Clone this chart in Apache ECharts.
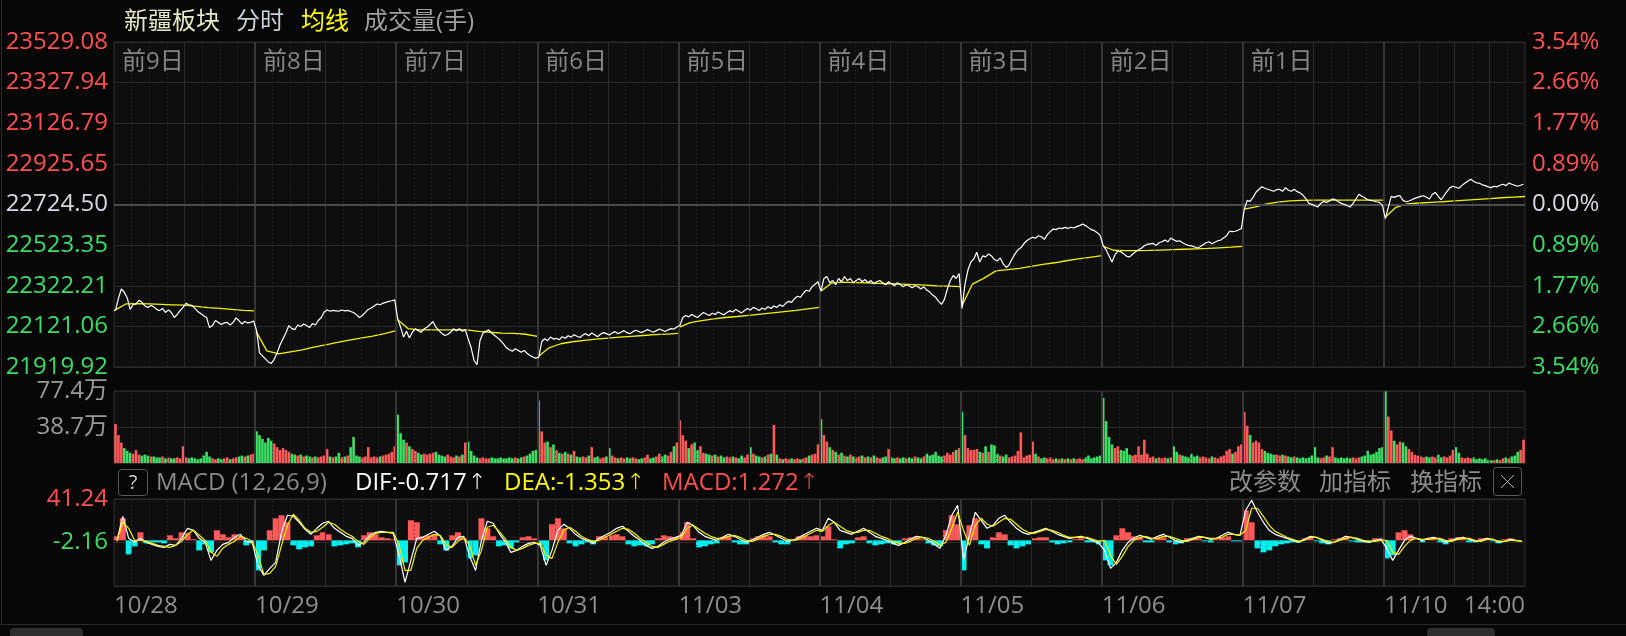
<!DOCTYPE html>
<html><head><meta charset="utf-8">
<script src="https://cdn.jsdelivr.net/npm/echarts@6/dist/echarts.min.js"></script>
<style>html,body{margin:0;padding:0;background:#070707;}#c{width:1626px;height:636px;}</style>
</head><body><div id="c"></div>
<script>
// ---------------- DATA ----------------
const dates = ['10/28','10/29','10/30','10/31','11/03','11/04','11/05','11/06','11/07','11/10'];
const lastTime = '14:00';
const dayTags = ['前9日','前8日','前7日','前6日','前5日','前4日','前3日','前2日','前1日',''];
const priceTicks = ['21919.92','22121.06','22322.21','22523.35','22724.50','22925.65','23126.79','23327.94','23529.08'];
const pctTicks = ['3.54%','2.66%','1.77%','0.89%','0.00%','0.89%','1.77%','2.66%','3.54%'];
const volTicks = ['', '38.7万', '77.4万'];
const macdTicks = ['', '-2.16', '41.24'];
const priceMin = 21919.92, priceMax = 23529.08, priceStep = 201.145, prevClose = 22724.50;
const volMax = 77.4, volStep = 38.7;
const macdMin = -45.56, macdMax = 41.24, macdStep = 43.4;

// price, 48 points per day (5-minute samples)
const price = [
22199,22260,22306,22290,22262,22205,22228,22232,22250,22240,22222,22215,22225,22218,22205,22199,22210,22190,22203,22190,22165,22180,22199,22215,22235,22228,22225,22210,22195,22185,22174,22165,22115,22125,22150,22140,22130,22138,22141,22128,22140,22163,22150,22133,22145,22138,22141,22148,
22100,21990,21975,21960,21945,21938,21958,21990,22030,22060,22090,22125,22110,22105,22128,22120,22133,22125,22115,22135,22128,22150,22165,22192,22202,22196,22200,22198,22196,22202,22198,22200,22195,22190,22178,22165,22175,22190,22205,22212,22222,22232,22228,22236,22240,22245,22248,22252,
22158,22117,22068,22097,22064,22092,22109,22100,22092,22109,22117,22130,22145,22117,22100,22087,22076,22081,22092,22109,22100,22109,22097,22104,22059,22015,21952,21932,22051,22087,22097,22104,22087,22076,22064,22051,22034,22015,22005,21998,22010,22002,21993,22002,21988,21977,21969,21964,
21968,22045,22060,22050,22068,22058,22062,22055,22070,22062,22075,22068,22080,22072,22066,22078,22085,22075,22088,22080,22070,22082,22090,22085,22078,22088,22095,22085,22092,22100,22090,22085,22095,22102,22096,22090,22098,22105,22098,22092,22100,22108,22102,22096,22104,22110,22108,22118,
22125,22165,22175,22168,22180,22172,22165,22178,22190,22182,22175,22186,22180,22192,22185,22178,22190,22198,22192,22205,22196,22188,22200,22210,22202,22215,22208,22200,22212,22205,22218,22210,22222,22215,22228,22220,22235,22245,22240,22258,22270,22265,22285,22300,22295,22318,22330,22342,
22296,22358,22368,22337,22348,22327,22358,22342,22368,22348,22358,22337,22348,22358,22342,22353,22337,22348,22332,22342,22348,22337,22327,22342,22332,22322,22337,22327,22317,22327,22322,22312,22322,22317,22306,22317,22301,22291,22276,22265,22245,22230,22255,22306,22348,22373,22358,22383,
22210,22330,22400,22440,22455,22488,22440,22470,22465,22480,22470,22452,22445,22460,22430,22413,22425,22455,22480,22500,22510,22530,22545,22555,22562,22558,22570,22565,22552,22575,22590,22603,22600,22608,22605,22611,22606,22612,22608,22615,22620,22628,22620,22610,22600,22595,22585,22570,
22521,22500,22470,22440,22475,22495,22490,22480,22468,22465,22478,22490,22500,22508,22520,22528,22530,22532,22522,22535,22540,22548,22540,22558,22550,22542,22545,22535,22528,22522,22520,22515,22509,22515,22525,22535,22540,22530,22538,22545,22548,22560,22570,22592,22590,22592,22598,22605,
22700,22745,22740,22760,22785,22800,22812,22805,22800,22795,22790,22798,22800,22790,22808,22795,22790,22800,22788,22782,22770,22752,22730,22725,22718,22712,22730,22740,22735,22742,22752,22748,22738,22730,22725,22718,22712,22730,22752,22775,22765,22758,22748,22745,22742,22738,22735,22720,
22655,22710,22765,22760,22766,22768,22745,22738,22742,22748,22755,22760,22765,22768,22760,22752,22775,22784,22765,22748,22770,22790,22808,22815,22810,22805,22818,22830,22840,22850,22840,22832,22830,22822,22818,22812,22808,22815,22812,22820,22825,22818,22830,22825,22820,22815,22820,22825
];

// average price line, 13 points per day (every 20 minutes, day start to day end)
const avgLine = [
22199,22232,22233,22232,22230,22228,22226,22220,22214,22210,22205,22200,22198,
22105,22000,21985,21995,22005,22018,22030,22042,22053,22063,22073,22085,22100,
22160,22110,22104,22104,22104,22104,22104,22096,22092,22088,22086,22082,22072,
21968,22015,22035,22045,22052,22058,22063,22068,22072,22076,22080,22083,22086,
22115,22140,22150,22158,22165,22170,22176,22182,22188,22194,22200,22208,22215,
22290,22335,22340,22338,22336,22334,22332,22330,22328,22325,22322,22320,22318,
22210,22330,22360,22396,22402,22408,22418,22428,22436,22446,22455,22463,22471,
22521,22498,22496,22496,22497,22499,22501,22503,22505,22507,22510,22513,22517,
22700,22712,22728,22736,22742,22745,22746,22746,22746,22746,22746,22746,22746,
22655,22710,22728,22732,22735,22738,22742,22746,22750,22754,22758,22761,22764
];

// volume (万手), 48 per day
const volume = [
42,30,22,16,13,11,10,14,9,8,9,8,7,7,6,6,7,5,6,5,5,6,5,18,6,5,6,5,4,5,8,12,7,5,4,5,4,5,6,4,5,6,7,8,7,8,9,10,
34,30,26,22,27,24,21,17,14,16,14,12,10,9,8,9,7,8,7,6,7,6,7,8,15,7,6,7,11,6,7,8,17,28,8,7,6,7,17,6,7,6,7,8,9,10,12,18,
52,32,25,22,18,15,13,11,9,10,9,10,11,12,9,8,7,9,7,6,8,7,9,22,23,13,8,6,5,6,5,5,6,5,5,6,5,5,6,5,6,5,6,7,8,10,13,14,
67,34,22,23,17,20,14,11,10,12,10,9,13,7,6,7,6,8,17,6,7,5,6,7,16,8,6,5,6,5,6,5,6,5,4,5,6,9,5,6,7,10,7,9,8,12,18,22,
46,30,24,16,20,22,14,18,11,10,9,8,9,7,8,6,7,6,7,6,5,8,6,9,17,10,8,7,6,7,9,10,41,9,5,4,5,4,5,4,5,4,5,6,8,9,10,20,
47,30,23,17,14,12,9,11,8,7,9,7,6,7,8,6,7,6,8,6,5,6,7,15,6,5,6,5,6,5,6,5,7,6,5,7,10,8,9,12,8,7,8,11,9,12,14,16,
55,30,16,14,14,15,12,11,18,12,20,19,10,8,7,9,6,7,8,13,33,6,8,9,23,10,7,5,6,5,6,4,5,4,5,4,5,4,5,4,5,4,6,8,5,6,7,8,
70,45,28,20,16,18,14,13,16,9,8,9,18,9,25,10,6,7,5,6,5,6,5,6,18,12,9,8,7,6,10,7,8,6,7,6,5,7,6,5,7,8,13,15,10,12,18,20,
55,40,30,22,24,22,15,13,11,10,9,9,8,9,8,7,6,7,6,5,6,5,6,8,17,6,5,6,8,7,17,6,5,6,5,6,5,6,5,6,7,8,13,9,10,12,16,17,
77,50,35,24,20,23,22,18,15,12,9,8,7,6,7,6,7,6,9,6,7,6,8,14,17,11,6,5,6,5,6,4,5,4,5,3,3,3,4,3,5,6,5,7,8,12,14,25
];

// MACD (12,26,9), 24 per day (10-minute samples)
const dif = [
0,24,2,-2,2,-2,-4,-6,-7,-4,-5,2,12,10,2,-2,-20,-10,-4,-2,3,6,-1,-2,
-25,-35,-28,-22,8,25,24,18,11,6,12,17,19,12,8,4,2,-5,-2,5,8,9,8,7,
-15,-42,-20,2,3,6,9,4,-10,-6,3,4,-16,-30,0,19,17,7,-1,-12,-10,-6,-3,-2,
-5,-25,-10,10,16,12,6,2,0,-3,2,5,8,12,14,9,4,0,-5,-8,-6,-2,1,3,
5,18,15,8,4,2,0,3,6,4,1,-2,0,3,6,8,5,2,-1,0,3,6,9,12,
10,22,18,10,8,6,9,12,8,4,2,0,-3,-5,-2,1,4,3,0,-4,-8,5,25,35,
-20,5,28,20,12,15,22,25,18,12,8,6,8,10,12,9,6,4,2,3,4,2,0,-3,
-10,-28,-22,-10,-2,2,5,3,1,4,6,3,0,-2,0,2,4,3,1,2,5,8,6,5,
30,40,28,18,10,6,4,2,0,-2,1,4,3,0,-3,-2,1,4,3,1,-1,-2,0,1,
-8,-20,-10,0,4,2,0,2,3,1,-2,0,2,3,1,-1,0,2,1,-2,-1,1,0,-1
];
const dea = [
-1,18,12,0,0,-1,-3,-5,-6,-7,-5,-1,6,10,5,0,-12,-16,-8,-4,-1,4,2,-1,
-15,-34,-33,-26,-5,15,26,20,12,8,9,13,18,16,11,7,4,-1,-4,2,7,8,8,8,
-5,-30,-30,-8,0,3,6,5,-4,-7,-1,3,-5,-25,-10,13,15,9,2,-7,-10,-8,-5,-3,
-3,-15,-18,-2,10,13,9,4,1,-1,0,3,6,9,12,11,7,2,-2,-6,-7,-4,-1,1,
3,12,15,11,7,4,2,2,4,5,3,0,-1,1,4,6,6,4,1,0,1,4,7,10,
9,15,18,14,10,8,8,10,10,7,4,2,-1,-3,-3,-1,2,3,2,-1,-5,-2,12,28,
10,-5,15,22,16,14,18,22,21,16,11,8,7,9,11,10,8,5,3,3,3,3,1,-1,
0,-15,-24,-16,-6,0,3,4,2,2,4,4,2,0,-1,1,3,3,2,2,3,6,6,5,
10,32,32,24,15,9,6,3,1,-1,0,3,3,1,-1,-2,0,2,3,2,0,-1,-1,0,
0,-12,-14,-6,0,2,1,1,2,2,0,-1,1,2,2,0,-1,1,1,-1,-1,0,0,-1
];
const macd = [
4,22,-14,-6,8,-3,-2,-2,-3,5,2,8,7,1,-10,-4,-12,10,6,3,6,4,-5,-3,
-30,-10,10,22,25,18,-5,-9,-7,-6,5,8,6,-6,-5,-4,-3,-7,5,8,6,3,2,1,
-25,-22,20,18,4,5,6,-4,-10,5,8,2,-18,-15,22,12,4,-6,-5,-8,-2,3,4,2,
-5,-20,16,22,12,-3,-6,-4,-2,-4,4,4,5,6,4,-4,-6,-5,-6,-4,2,5,4,3,
8,18,2,-7,-6,-4,-3,3,4,-2,-4,-4,2,4,5,4,-2,-4,-4,1,4,5,4,5,
4,14,1,-8,-4,-3,3,4,-3,-5,-4,-3,-4,-3,2,3,4,1,-3,-5,-6,10,25,16,
-30,15,22,-4,-8,3,8,6,-5,-8,-6,-4,2,3,3,-2,-4,-3,-2,1,2,-2,-2,-4,
-20,-25,5,12,8,4,3,-2,-2,3,3,-2,-4,-3,2,2,2,-1,-2,1,3,4,-1,-1,
30,18,-8,-12,-10,-6,-4,-3,-2,-2,2,3,-1,-3,-4,1,2,3,-1,-2,-2,-2,2,2,
-18,-15,8,10,6,0,-2,2,2,-2,-4,2,3,2,-2,-2,2,2,-1,-3,1,2,-1,0
];

// ---------------- BUILD ----------------
const FONT = '"Open Sans","Noto Sans CJK SC",sans-serif';
const RED = '#ff5252', GREEN = '#3ddc68', WHITE = '#d6d9e0', GRAY = '#8e8e8e';
const BAR_RED = '#ff5a5a', BAR_GREEN = '#3de064', CYAN = '#00f0f0';
const DAY = 240, NDAYS = dates.length;
const P = 48, M = 24, K = 13;
const xAt = (i, n) => Math.floor(i / n) * DAY + ((i % n) + 0.5) * DAY / n;

const pricePts = price.map((v, i) => [xAt(i, P), v]);
const avgSeries = [];
for (let d = 0; d < NDAYS; d++) {
  const pts = [];
  for (let j = 0; j < K; j++) pts.push([d * DAY + j * DAY / (K - 1), avgLine[d * K + j]]);
  avgSeries.push({type: 'line', xAxisIndex: 0, yAxisIndex: 0, data: pts, showSymbol: false, silent: true, z: 4,
    lineStyle: {color: '#f2f200', width: 1.3}});
}
const volPts = volume.map((v, i) => ({value: [xAt(i, P), v],
  itemStyle: {color: (i === 0 || price[i] >= price[i - 1]) ? BAR_RED : BAR_GREEN}}));
const macdPts = macd.map((v, i) => ({value: [xAt(i, M), v], itemStyle: {color: v >= 0 ? BAR_RED : CYAN}}));
const difPts = dif.map((v, i) => [xAt(i, M), v]);
const deaPts = dea.map((v, i) => [xAt(i, M), v]);

// vertical grid positions (minutes)
const vDay = [], vSolid = [], vDot = [];
for (let m = 30; m < NDAYS * DAY; m += 30) {
  if (m % DAY === 0) vDay.push(m);
  else if (m % 120 === 0 || (m > (NDAYS - 1) * DAY && m % 60 === 0)) vSolid.push(m);
  else vDot.push(m);
}
function gridLines(xi, yi, extra) {
  const data = [
    ...vDot.map(m => ({xAxis: m, lineStyle: {color: '#2f2f2f', width: 1, type: [1, 3]}})),
    ...vSolid.map(m => ({xAxis: m, lineStyle: {color: '#2a2a2a', width: 1, type: 'solid'}})),
    ...vDay.map(m => ({xAxis: m, lineStyle: {color: '#363636', width: 2, type: 'solid'}})),
    ...(extra || [])
  ];
  return {type: 'line', xAxisIndex: xi, yAxisIndex: yi, data: [], silent: true, z: 1,
    markLine: {silent: true, symbol: ['none', 'none'], label: {show: false}, animation: false,
      emphasis: {disabled: true}, data: data}};
}
const tickIdx = (v, min, step) => Math.round((v - min) / step);

const gridBase = {left: 114, width: 1411, show: true, backgroundColor: '#0e0e0e', borderColor: '#303030', borderWidth: 1};
const hidX = (gi) => ({type: 'value', gridIndex: gi, min: 0, max: NDAYS * DAY, interval: DAY,
  axisLine: {show: false}, axisTick: {show: false}, splitLine: {show: false}, axisLabel: {show: false}});
const splitH = {show: true, lineStyle: {color: '#2a2a2a', width: 1}};

const hdr = (x, label, value, color) => ({type: 'text', x: x, y: 483, style: {
  text: '{a|' + label + value + '}{b|↑}', textVerticalAlign: 'middle',
  rich: {a: {fill: color, font: '24px ' + FONT}, b: {fill: color, font: '300 22px "DejaVu Sans"', padding: [0, 0, 0, 1]}}}});

const option = {
  backgroundColor: '#070707',
  animation: false,
  textStyle: {fontFamily: FONT},
  grid: [
    Object.assign({top: 42, height: 325}, gridBase),
    Object.assign({top: 391, height: 72}, gridBase),
    Object.assign({top: 499, height: 87}, gridBase)
  ],
  xAxis: [
    Object.assign(hidX(0), {position: 'top', axisLabel: {show: true, inside: true, align: 'left', margin: 8,
      padding: [0, 0, 0, 8], color: '#868686', fontSize: 24, fontFamily: FONT,
      formatter: v => dayTags[Math.round(v / DAY)] || ''}}),
    hidX(1),
    Object.assign(hidX(2), {axisLabel: {show: true, align: 'left', alignMaxLabel: 'right', margin: 8,
      color: GRAY, fontSize: 24, fontFamily: FONT, showMaxLabel: true, showMinLabel: true,
      formatter: v => { const k = Math.round(v / DAY); return k >= NDAYS ? lastTime : dates[k]; }}})
  ],
  yAxis: [
    {type: 'value', gridIndex: 0, min: priceMin, max: priceMax, interval: priceStep, position: 'left',
      axisLine: {show: false}, axisTick: {show: false}, splitLine: splitH,
      axisLabel: {margin: 6, fontSize: 24, fontFamily: FONT, showMinLabel: true, showMaxLabel: true,
        formatter: v => priceTicks[tickIdx(v, priceMin, priceStep)] || '',
        color: v => { const k = tickIdx(v, priceMin, priceStep); return k > 4 ? RED : (k < 4 ? GREEN : WHITE); }}},
    {type: 'value', gridIndex: 0, min: priceMin, max: priceMax, interval: priceStep, position: 'right',
      axisLine: {show: false}, axisTick: {show: false}, splitLine: {show: false},
      axisLabel: {margin: 7, fontSize: 24, fontFamily: FONT, showMinLabel: true, showMaxLabel: true,
        formatter: v => pctTicks[tickIdx(v, priceMin, priceStep)] || '',
        color: v => { const k = tickIdx(v, priceMin, priceStep); return k > 4 ? RED : (k < 4 ? GREEN : WHITE); }}},
    {type: 'value', gridIndex: 1, min: 0, max: volMax, interval: volStep,
      axisLine: {show: false}, axisTick: {show: false}, splitLine: splitH,
      axisLabel: {margin: 6, fontSize: 24, fontFamily: FONT, color: '#9a9a9a', showMaxLabel: true,
        formatter: v => volTicks[tickIdx(v, 0, volStep)] || ''}},
    {type: 'value', gridIndex: 2, min: macdMin, max: macdMax, interval: macdStep,
      axisLine: {show: false}, axisTick: {show: false}, splitLine: splitH,
      axisLabel: {margin: 6, fontSize: 24, fontFamily: FONT, showMaxLabel: true,
        formatter: v => macdTicks[tickIdx(v, macdMin, macdStep)] || '',
        color: v => tickIdx(v, macdMin, macdStep) === 2 ? RED : GREEN}}
  ],
  series: [
    gridLines(0, 0, [{yAxis: prevClose, lineStyle: {color: '#4c4c4c', width: 2, type: 'solid'}}]),
    gridLines(1, 2),
    gridLines(2, 3),
    {type: 'line', xAxisIndex: 0, yAxisIndex: 0, data: pricePts, showSymbol: false, silent: true, z: 5,
      lineStyle: {color: '#ffffff', width: 1.2}},
    ...avgSeries,
    {type: 'bar', xAxisIndex: 1, yAxisIndex: 2, data: volPts, barWidth: 2.6, silent: true, z: 3},
    {type: 'bar', xAxisIndex: 2, yAxisIndex: 3, data: macdPts, barWidth: 6, silent: true, z: 3},
    {type: 'line', xAxisIndex: 2, yAxisIndex: 3, data: difPts, showSymbol: false, silent: true, z: 5,
      lineStyle: {color: '#ffffff', width: 1.2}},
    {type: 'line', xAxisIndex: 2, yAxisIndex: 3, data: deaPts, showSymbol: false, silent: true, z: 5,
      lineStyle: {color: '#f2f200', width: 1.2}}
  ],
  graphic: [
    {type: 'line', shape: {x1: 1.5, y1: 0, x2: 1.5, y2: 624}, style: {stroke: '#2a2a2a', lineWidth: 1}, silent: true},
    {type: 'text', x: 124, y: 22, style: {text: '新疆板块', fill: '#e9e8c6', font: '24px ' + FONT, textVerticalAlign: 'middle'}},
    {type: 'text', x: 236, y: 22, style: {text: '分时', fill: '#c9d0da', font: '24px ' + FONT, textVerticalAlign: 'middle'}},
    {type: 'text', x: 301, y: 22, style: {text: '均线', fill: '#ffff00', font: '24px ' + FONT, textVerticalAlign: 'middle'}},
    {type: 'text', x: 364, y: 22, style: {text: '成交量(手)', fill: '#a0a0a0', font: '24px ' + FONT, textVerticalAlign: 'middle'}},
    {type: 'rect', shape: {x: 118.5, y: 469.5, width: 29, height: 26, r: 3}, style: {fill: 'none', stroke: '#595959', lineWidth: 1}},
    {type: 'text', x: 133, y: 483, style: {text: '?', fill: '#cfcfcf', font: '20px ' + FONT, textAlign: 'center', textVerticalAlign: 'middle'}},
    {type: 'text', x: 156, y: 483, style: {text: 'MACD (12,26,9)', fill: '#8a8a8a', font: '24px ' + FONT, textVerticalAlign: 'middle'}},
    hdr(355, 'DIF:', '-0.717', '#ffffff'),
    hdr(504, 'DEA:', '-1.353', '#ffff00'),
    hdr(662, 'MACD:', '1.272', '#ff5050'),
    {type: 'text', x: 1229, y: 483, style: {text: '改参数', fill: '#8c8c8c', font: '24px ' + FONT, textVerticalAlign: 'middle'}},
    {type: 'text', x: 1319, y: 483, style: {text: '加指标', fill: '#8c8c8c', font: '24px ' + FONT, textVerticalAlign: 'middle'}},
    {type: 'text', x: 1410, y: 483, style: {text: '换指标', fill: '#8c8c8c', font: '24px ' + FONT, textVerticalAlign: 'middle'}},
    {type: 'rect', shape: {x: 1493.5, y: 467.5, width: 28, height: 28, r: 3}, style: {fill: 'none', stroke: '#595959', lineWidth: 1}},
    {type: 'line', shape: {x1: 1501, y1: 475, x2: 1514, y2: 488}, style: {stroke: '#b0b0b0', lineWidth: 1}},
    {type: 'line', shape: {x1: 1514, y1: 475, x2: 1501, y2: 488}, style: {stroke: '#b0b0b0', lineWidth: 1}},
    {type: 'line', shape: {x1: 0, y1: 624.5, x2: 1626, y2: 624.5}, style: {stroke: '#2c2c2c', lineWidth: 1}},
    {type: 'rect', shape: {x: 10, y: 628, width: 73, height: 10, r: 4}, style: {fill: '#2e2e2e'}},
    {type: 'rect', shape: {x: 1427, y: 628, width: 68, height: 10, r: 4}, style: {fill: '#2e2e2e'}}
  ]
};
const chart = echarts.init(document.getElementById('c'), null, {renderer: 'canvas', width: 1626, height: 636});
chart.setOption(option);
</script>
</body></html>
